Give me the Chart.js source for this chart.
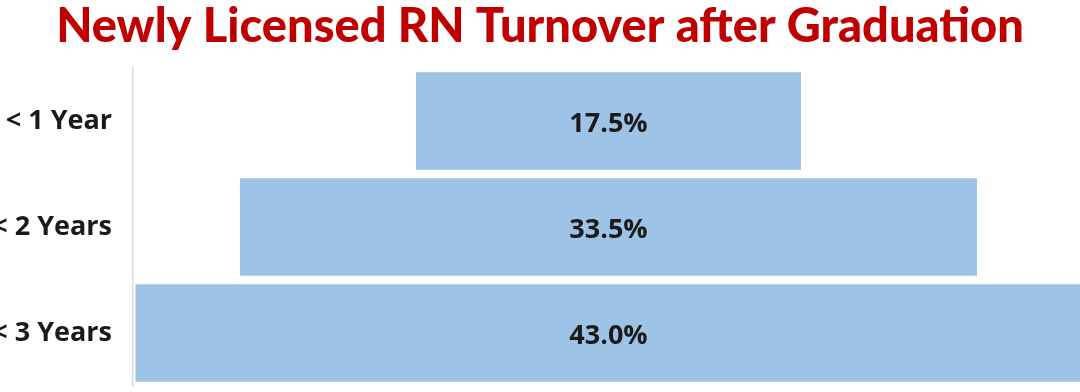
<!DOCTYPE html>
<html>
<head>
<meta charset="utf-8">
<script src="https://cdn.jsdelivr.net/npm/chart.js@4.4.0/dist/chart.umd.min.js"></script>
<style>
  html, body { margin: 0; padding: 0; background: #ffffff; overflow: hidden; }
  #wrap { width: 1080px; height: 392px; position: relative; }
</style>
</head>
<body>
<div id="wrap"><canvas id="c"></canvas></div>
<script>
const categories = ["< 1 Year", "< 2 Years", "< 3 Years"];
const turnoverPct = [17.5, 33.5, 43.0];
const chartTitle = "Newly Licensed RN Turnover after Graduation";

const funnelData = turnoverPct.map(v => [-v / 2, v / 2]);

const valueLabels = {
  id: 'valueLabels',
  afterDatasetsDraw(chart) {
    const ctx = chart.ctx;
    const meta = chart.getDatasetMeta(0);
    ctx.save();
    ctx.font = 'bold 27px "Open Sans"';
    ctx.fillStyle = '#1a1a1a';
    ctx.textAlign = 'center';
    ctx.textBaseline = 'middle';
    meta.data.forEach((el, i) => {
      const xc = chart.scales.x.getPixelForValue(0);
      ctx.fillText(turnoverPct[i].toFixed(1) + '%', xc, el.y + 3);
    });
    ctx.restore();
  }
};

new Chart(document.getElementById('c'), {
  type: 'bar',
  data: {
    labels: categories,
    datasets: [{
      data: funnelData,
      backgroundColor: '#9DC3E6',
      borderWidth: 0,
      barPercentage: 0.92,
      categoryPercentage: 1.0
    }]
  },
  options: {
    indexAxis: 'y',
    responsive: true,
    maintainAspectRatio: false,
    animation: false,
    layout: { padding: { top: 0, bottom: 6, left: 0, right: 0 } },
    plugins: {
      legend: { display: false },
      tooltip: { enabled: false },
      title: {
        display: true,
        text: chartTitle,
        color: '#C00000',
        font: { family: 'Lato', size: 47, weight: '900', lineHeight: 1.15 },
        padding: { top: 0, bottom: 14 }
      }
    },
    scales: {
      x: {
        display: false,
        min: -21.61,
        max: 21.43
      },
      y: {
        afterFit(scale) {
          scale.width = 133;
          scale.paddingTop = 0;
          scale.paddingBottom = 0;
        },
        grid: { display: false },
        border: { display: true, color: '#D9D9D9', width: 1.5 },
        ticks: {
          padding: 13,
          color: '#1a1a1a',
          font: { family: 'Open Sans', size: 27, weight: 'bold' }
        }
      }
    }
  },
  plugins: [valueLabels]
});
</script>
</body>
</html>
